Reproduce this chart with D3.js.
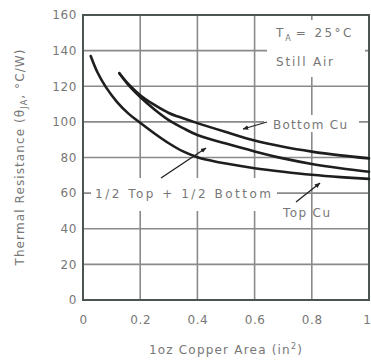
<!DOCTYPE html>
<html>
<head>
<meta charset="utf-8">
<script src="https://cdn.jsdelivr.net/npm/d3@7"></script>
<style>
  html, body { margin: 0; padding: 0; background: #fff; }
  svg { display: block; }
  text { font-family: "DejaVu Sans", sans-serif; fill: #777; }
</style>
</head>
<body>
<div id="chart"></div>
<script>
// values
const xTicks = [0, 0.2, 0.4, 0.6, 0.8, 1];
const xTickLabels = ["0", "0.2", "0.4", "0.6", "0.8", "1"];
const yTicks = [0, 20, 40, 60, 80, 100, 120, 140, 160];

const topCuArea = [0.027, 0.05, 0.08, 0.12, 0.16, 0.2, 0.25, 0.3, 0.35, 0.4, 0.45, 0.5, 0.6, 0.7, 0.8, 0.9, 1.0];
const topCuRes  = [137, 128, 119.5, 111, 104.5, 99.5, 93.5, 88, 83.4, 80.2, 78.2, 76.6, 74, 72, 70.3, 69, 68];

const bottomCuArea = [0.127, 0.16, 0.2, 0.25, 0.3, 0.35, 0.4, 0.5, 0.6, 0.7, 0.8, 0.9, 1.0];
const bottomCuRes  = [127.3, 121, 115, 109.5, 105, 102, 99.3, 94.3, 89.5, 86, 83.3, 81.2, 79.5];

const halfArea = [0.127, 0.16, 0.2, 0.25, 0.3, 0.35, 0.4, 0.5, 0.6, 0.7, 0.8, 0.9, 1.0];
const halfRes  = [127.3, 120.5, 114, 107, 101, 96.5, 92.6, 87.8, 83.4, 79.5, 76.4, 74, 72];

const width = 371, height = 361;
const margin = { top: 15, right: 2, bottom: 61, left: 83 };

const svg = d3.select("#chart").append("svg")
    .attr("width", width)
    .attr("height", height);

const x = d3.scaleLinear().domain([0, 1]).range([margin.left, width - margin.right]);
const y = d3.scaleLinear().domain([0, 160]).range([height - margin.bottom, margin.top]);

svg.append("defs").append("marker")
    .attr("id", "arrow")
    .attr("viewBox", "0 0 10 10")
    .attr("refX", 9).attr("refY", 5)
    .attr("markerWidth", 4.5).attr("markerHeight", 4.5)
    .attr("orient", "auto")
    .append("path")
    .attr("d", "M0,1 L10,5 L0,9 Z")
    .attr("fill", "#222");

// grid
const grid = svg.append("g").attr("stroke", "#8a8a8a").attr("stroke-width", 1.6);
grid.selectAll("line.v")
    .data(xTicks.slice(1, -1))
    .join("line")
    .attr("x1", d => x(d)).attr("x2", d => x(d))
    .attr("y1", y(160)).attr("y2", y(0));
grid.selectAll("line.h")
    .data(yTicks.slice(1, -1))
    .join("line")
    .attr("x1", x(0)).attr("x2", x(1))
    .attr("y1", d => y(d)).attr("y2", d => y(d));

// white boxes behind the labels cut the grid
const boxes = [
    [267, 20, 365, 77],
    [264, 115, 359, 132],
    [91, 178, 277, 211]
];
svg.append("g").selectAll("rect")
    .data(boxes)
    .join("rect")
    .attr("x", d => d[0]).attr("y", d => d[1])
    .attr("width", d => d[2] - d[0]).attr("height", d => d[3] - d[1])
    .attr("fill", "#fff");

// frame
svg.append("rect")
    .attr("x", x(0)).attr("y", y(160))
    .attr("width", x(1) - x(0)).attr("height", y(0) - y(160))
    .attr("fill", "none")
    .attr("stroke", "#4a5550")
    .attr("stroke-width", 2);

// axes (labels only)
const yAxis = svg.append("g")
    .attr("transform", `translate(${x(0)},0)`)
    .call(d3.axisLeft(y).tickValues(yTicks).tickSize(0).tickPadding(6));
const xAxis = svg.append("g")
    .attr("transform", `translate(0,${y(0)})`)
    .call(d3.axisBottom(x).tickValues(xTicks).tickFormat((d, i) => xTickLabels[i]).tickSize(0).tickPadding(15));
[yAxis, xAxis].forEach(g => {
    g.select(".domain").remove();
    g.selectAll("text")
        .attr("font-family", "DejaVu Sans")
        .attr("font-size", 12)
        .attr("fill", "#777")
        .attr("letter-spacing", 0.6);
});
// last x label sits on the window edge; keep it inside
xAxis.selectAll(".tick").filter(d => d === 1).select("text")
    .attr("text-anchor", "end")
    .attr("x", 2);

// curves
const line = d3.line()
    .x(d => x(d[0]))
    .y(d => y(d[1]))
    .curve(d3.curveCatmullRom.alpha(0.5));

const series = [
    d3.zip(topCuArea, topCuRes),
    d3.zip(bottomCuArea, bottomCuRes),
    d3.zip(halfArea, halfRes)
];
svg.append("g").selectAll("path")
    .data(series)
    .join("path")
    .attr("d", line)
    .attr("fill", "none")
    .attr("stroke", "#1e1e1e")
    .attr("stroke-width", 2.6)
    .attr("stroke-linecap", "round");

// callout arrows
const arrows = [
    [[267, 122], [243, 129]],
    [[161, 178], [206, 148]],
    [[296, 202], [320, 183]]
];
svg.append("g").selectAll("line")
    .data(arrows)
    .join("line")
    .attr("x1", d => d[0][0]).attr("y1", d => d[0][1])
    .attr("x2", d => d[1][0]).attr("y2", d => d[1][1])
    .attr("stroke", "#222")
    .attr("stroke-width", 1.3)
    .attr("marker-end", "url(#arrow)");

// labels
function label(txt, px, py, len) {
    return svg.append("text")
        .attr("x", px).attr("y", py)
        .attr("font-size", 12)
        .attr("textLength", len)
        .attr("lengthAdjust", "spacing")
        .text(txt);
}
label("Bottom Cu", 273, 129, 74);
label("1/2 Top + 1/2 Bottom", 95, 198, 176);
label("Top Cu", 283, 217, 47);
label("Still Air", 276, 66, 57);

const ta = svg.append("text").attr("x", 276).attr("y", 37).attr("font-size", 12);
ta.append("tspan").text("T");
ta.append("tspan").attr("font-size", 8).attr("dy", 4).attr("dx", 2).text("A");
ta.append("tspan").attr("dy", -4).attr("dx", 5).attr("letter-spacing", 2.4).text("= 25°C");

const xl = svg.append("text")
    .attr("x", 226).attr("y", 354)
    .attr("text-anchor", "middle")
    .attr("font-size", 12)
    .attr("letter-spacing", 1.2);
xl.append("tspan").text("1oz Copper Area (in");
xl.append("tspan").attr("font-size", 8).attr("dy", -5).text("2");
xl.append("tspan").attr("dy", 5).text(")");

const yl = svg.append("text")
    .attr("transform", "rotate(-90)")
    .attr("x", -157).attr("y", 24)
    .attr("text-anchor", "middle")
    .attr("font-size", 12)
    .attr("letter-spacing", 1.1);
yl.append("tspan").text("Thermal Resistance (θ");
yl.append("tspan").attr("font-size", 8).attr("dy", 3).text("JA");
yl.append("tspan").attr("dy", -3).text(", °C/W)");
</script>
</body>
</html>
